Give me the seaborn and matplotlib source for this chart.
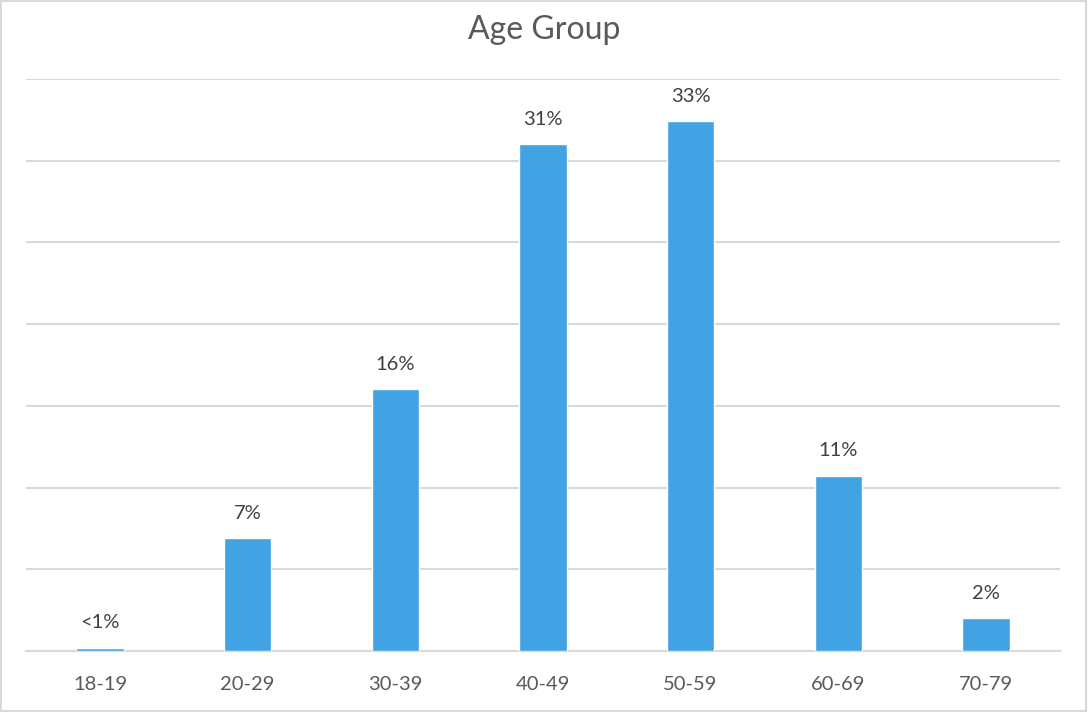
import matplotlib
matplotlib.use('Agg')
import matplotlib.pyplot as plt
import seaborn as sns
import pandas as pd
from matplotlib.patches import Rectangle

ages = ["18-19", "20-29", "30-39", "40-49", "50-59", "60-69", "70-79"]
share = [0.2, 6.9, 16.0, 31.0, 32.4, 10.7, 2.0]
bar_labels = ["<1%", "7%", "16%", "31%", "33%", "11%", "2%"]

df = pd.DataFrame({"age": ages, "share": share})

sns.set_style("white")
plt.rcParams['font.family'] = ['Lato', 'DejaVu Sans']

fig = plt.figure(figsize=(10.88, 7.12), dpi=100)
ax = fig.add_axes([0.024, 0.0857, 0.950, 0.8034])
sns.barplot(data=df, x="age", y="share", color="#41A3E3", width=0.32,
            saturation=1, ax=ax, zorder=3)

ax.set_ylim(0, 35)
ax.set_yticks(range(0, 36, 5))
ax.yaxis.grid(True, color="#D9D9D9", linewidth=1.5, zorder=0)
ax.set_yticklabels([])
ax.tick_params(axis='y', length=0)
ax.tick_params(axis='x', length=0, labelsize=14.5, labelcolor="#595959", pad=18)
ax.set_xlabel("")
ax.set_ylabel("")
for s in ["top", "right", "left"]:
    ax.spines[s].set_visible(False)
ax.spines["bottom"].set_color("#D9D9D9")
ax.spines["bottom"].set_linewidth(1.5)

for bar, lab in zip(ax.patches, bar_labels):
    ax.annotate(lab, (bar.get_x() + bar.get_width() / 2, bar.get_height()),
                xytext=(0, 12), textcoords="offset points", ha="center",
                va="bottom", fontsize=14.5, color="#404040")

fig.text(0.5, 0.958, "Age Group", ha="center", va="center", fontsize=23,
         color="#595959")
fig.patches.append(Rectangle((0.001, 0.002), 0.997, 0.997, transform=fig.transFigure,
                             fill=False, edgecolor="#D9D9D9", linewidth=1.5))

fig.savefig("out.png", dpi=100)
